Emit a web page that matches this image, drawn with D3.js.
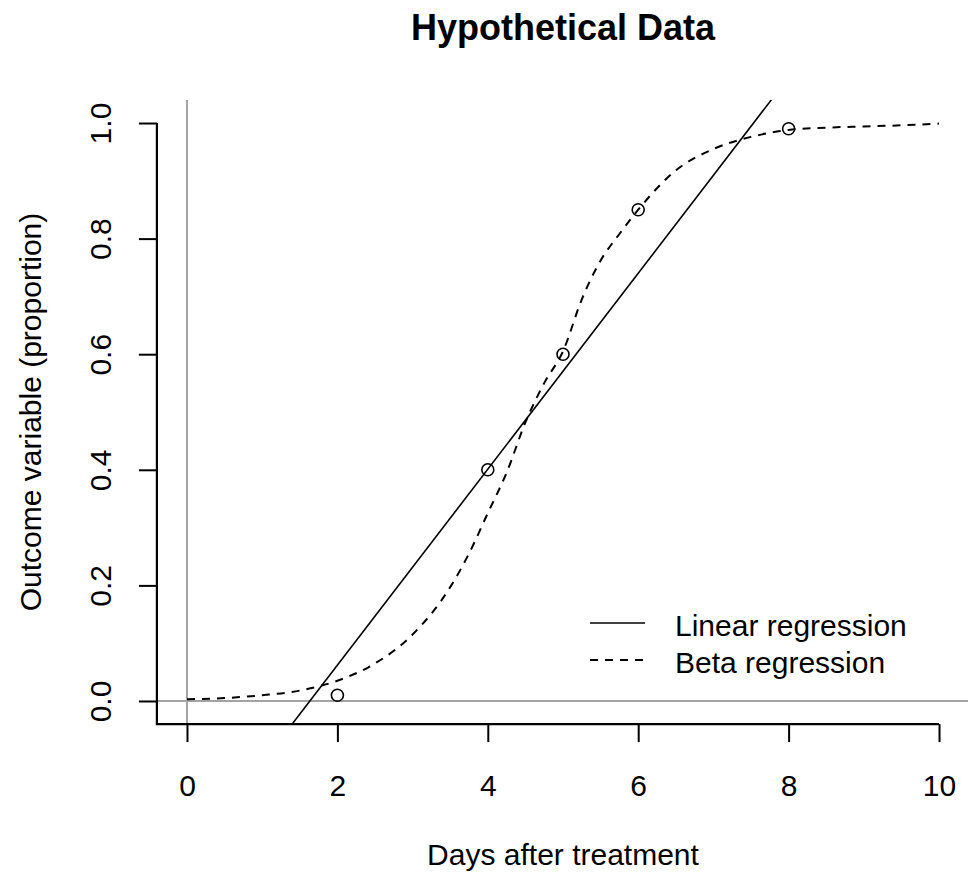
<!DOCTYPE html>
<html>

<head>
    <meta charset="utf-8">
    <style>
        body {
            margin: 0;
            background: #fff;
        }

        svg {
            display: block;
            font-family: 'Liberation Sans', Arial, sans-serif;
        }

        .axis text {
            font-size: 30px;
            fill: #000;
        }

        .axis line {
            stroke: #000;
            stroke-width: 2px;
        }
    </style>
</head>

<body>
    <svg width="968" height="873"></svg>

    <script src="https://d3js.org/d3.v7.min.js"></script>

    <script>
        // observed points
        const obsDays = [2, 4, 5, 6, 8];
        const obsValues = [0.01, 0.40, 0.60, 0.85, 0.99];

        // linear regression line (clipped to the plot area)
        const linearDays = [0, 10];
        const linearValues = [-0.277, 1.418];

        // beta regression curve
        const betaDays = [0, 0.5, 1, 1.5, 2, 2.5, 3, 3.5, 3.75, 4, 4.25, 4.5, 4.75, 5, 5.25, 5.5, 5.75, 6, 6.5, 7, 7.5, 8, 8.5, 9, 9.5, 10];
        const betaValues = [0.003, 0.005, 0.010, 0.018, 0.035, 0.065, 0.115, 0.197, 0.255, 0.325, 0.395, 0.482, 0.550, 0.605, 0.695, 0.762, 0.808, 0.850, 0.918, 0.955, 0.976, 0.988, 0.992, 0.994, 0.996, 0.999];

        const xTicks = [0, 2, 4, 6, 8, 10];
        const yTicks = [0, 0.2, 0.4, 0.6, 0.8, 1.0];
        const yTickLabels = ["0.0", "0.2", "0.4", "0.6", "0.8", "1.0"];

        const legendLabels = ["Linear regression", "Beta regression"];
        const legendDash = [null, "8,7"];

        const titleText = "Hypothetical Data";
        const xTitle = "Days after treatment";
        const yTitle = "Outcome variable (proportion)";

        let svg = d3.select("svg");

        // plot region, R style: 4% padding on both ends
        let x = d3.scaleLinear()
            .domain([-0.4, 10.4])
            .range([156.9, 969.1]);

        let y = d3.scaleLinear()
            .domain([-0.04, 1.04])
            .range([724.1, 99.9]);

        svg.append("clipPath")
            .attr("id", "plotClip")
            .append("rect")
            .attr("x", x(-0.4))
            .attr("y", y(1.04))
            .attr("width", x(10.4) - x(-0.4))
            .attr("height", y(-0.04) - y(1.04));

        let plot = svg.append("g").attr("clip-path", "url(#plotClip)");

        // reference lines at 0
        plot.append("line")
            .attr("x1", x(-0.4)).attr("x2", x(10.4))
            .attr("y1", y(0)).attr("y2", y(0))
            .style("stroke", "#a3a3a3")
            .style("stroke-width", "2px");

        plot.append("line")
            .attr("x1", x(0)).attr("x2", x(0))
            .attr("y1", y(-0.04)).attr("y2", y(1.04))
            .style("stroke", "#a3a3a3")
            .style("stroke-width", "2px");

        // linear regression
        let linearData = linearDays.map((d, i) => ({ x: d, y: linearValues[i] }));
        plot.append("path")
            .datum(linearData)
            .attr("fill", "none")
            .attr("stroke", "#000")
            .attr("stroke-width", 1.6)
            .attr("d", d3.line().x(d => x(d.x)).y(d => y(d.y)));

        // beta regression
        let betaData = betaDays.map((d, i) => ({ x: d, y: betaValues[i] }));
        plot.append("path")
            .datum(betaData)
            .attr("fill", "none")
            .attr("stroke", "#000")
            .attr("stroke-width", 2)
            .attr("stroke-dasharray", "8,7")
            .attr("d", d3.line().curve(d3.curveMonotoneX).x(d => x(d.x)).y(d => y(d.y)));

        // points
        let obsData = obsDays.map((d, i) => ({ x: d, y: obsValues[i] }));
        svg.selectAll(".pt")
            .data(obsData)
            .enter().append("circle")
            .attr("class", "pt")
            .attr("cx", d => x(d.x))
            .attr("cy", d => y(d.y))
            .attr("r", 6)
            .attr("fill", "none")
            .attr("stroke", "#000")
            .attr("stroke-width", 1.6);

        // x axis
        let xAxis = svg.append("g")
            .attr("class", "axis")
            .attr("transform", `translate(0,${y(-0.04)})`)
            .call(d3.axisBottom(x).tickValues(xTicks).tickSize(18).tickFormat(d3.format("d")));
        xAxis.select(".domain").remove();
        xAxis.selectAll("text").attr("y", 72).attr("dy", 0);

        // y axis
        let yAxis = svg.append("g")
            .attr("class", "axis")
            .attr("transform", `translate(${x(-0.4)},0)`)
            .call(d3.axisLeft(y).tickValues(yTicks).tickSize(18).tickFormat((d, i) => yTickLabels[i]));
        yAxis.select(".domain").remove();
        yAxis.selectAll("text")
            .attr("transform", "rotate(-90)")
            .attr("x", 0)
            .attr("y", -46)
            .attr("dy", 0)
            .style("text-anchor", "middle");

        // L shaped axis lines
        svg.append("path")
            .attr("fill", "none")
            .attr("stroke", "#000")
            .attr("stroke-width", 2.2)
            .attr("d", `M${x(-0.4)},${y(1)}L${x(-0.4)},${y(-0.04)}L${x(10)},${y(-0.04)}`);

        // titles
        svg.append("text")
            .attr("x", (x(-0.4) + x(10.4)) / 2)
            .attr("y", 40)
            .style("text-anchor", "middle")
            .style("font-weight", "bold")
            .style("font-size", "36px")
            .text(titleText);

        svg.append("text")
            .attr("x", (x(-0.4) + x(10.4)) / 2)
            .attr("y", 865)
            .style("text-anchor", "middle")
            .style("font-size", "30px")
            .text(xTitle);

        svg.append("text")
            .attr("transform", `translate(41,${(y(-0.04) + y(1.04)) / 2}) rotate(-90)`)
            .style("text-anchor", "middle")
            .style("font-size", "30px")
            .text(yTitle);

        // legend
        let legend = svg.append("g").attr("transform", "translate(590,623)");
        let items = legend.selectAll("g")
            .data(legendLabels)
            .enter().append("g")
            .attr("transform", (d, i) => `translate(0,${i * 37})`);

        items.append("line")
            .attr("x1", 0).attr("x2", 55)
            .attr("y1", 0).attr("y2", 0)
            .attr("stroke", "#000")
            .attr("stroke-width", (d, i) => i == 0 ? 1.6 : 2)
            .attr("stroke-dasharray", (d, i) => legendDash[i]);

        items.append("text")
            .attr("x", 85)
            .attr("y", 13)
            .style("font-size", "30px")
            .text(d => d);
    </script>
</body>

</html>
